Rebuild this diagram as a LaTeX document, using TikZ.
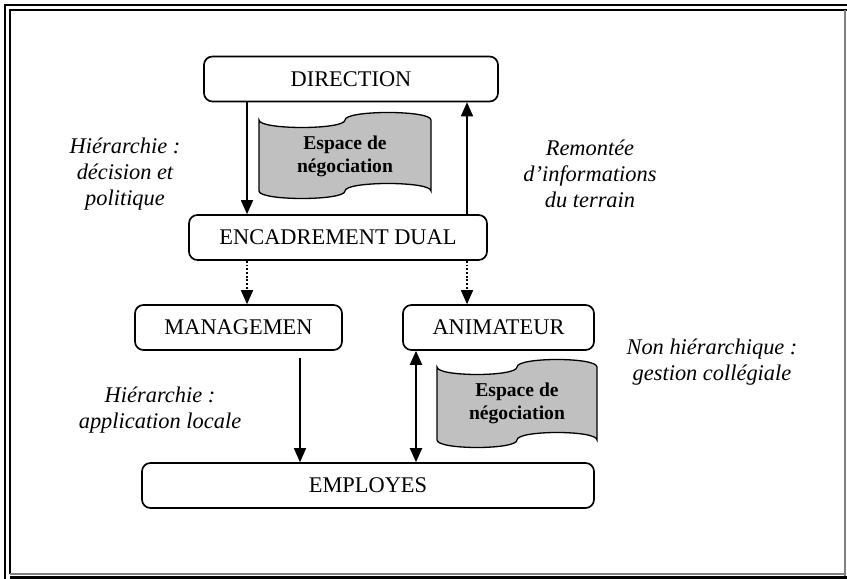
\documentclass[tikz,border=0pt]{standalone}
\usepackage{fontspec}
\setmainfont{Liberation Serif}
\usetikzlibrary{arrows.meta}
\definecolor{tapegray}{RGB}{192,192,192}
\definecolor{framegray}{RGB}{128,128,128}

% punched-tape banner: left x, right x, top y, bottom y, wave amplitude
\newcommand\tapeshape[5]{%
  \pgfmathsetmacro\tm{(#1+#2)/2}%
  \pgfmathsetmacro\ta{4/3*#5}%
  \draw[tape] ({#1},{#3}) .. controls ({#1},{#3+\ta}) and ({\tm},{#3+\ta}) .. ({\tm},{#3})
    .. controls ({\tm},{#3-\ta}) and ({#2},{#3-\ta}) .. ({#2},{#3})
    -- ({#2},{#4}) .. controls ({#2},{#4-\ta}) and ({\tm},{#4-\ta}) .. ({\tm},{#4})
    .. controls ({\tm},{#4+\ta}) and ({#1},{#4+\ta}) .. ({#1},{#4}) -- cycle;}

\begin{document}
\begin{tikzpicture}[x=0.5357pt, y=-0.5357pt,
  box/.style={draw, line width=0.9pt, rounded corners=4.5pt, inner sep=0pt,
    minimum height=45*0.5357pt, font=\fontsize{12}{14}\selectfont},
  arr/.style={line width=0.6pt, -{Triangle[length=7.5pt,width=6.5pt]}},
  dblarr/.style={line width=1pt, {Triangle[length=7.5pt,width=6.5pt]}-{Triangle[length=7.5pt,width=6.5pt]}},
  dotarr/.style={arr, dash pattern=on 1pt off 1pt},
  note/.style={font=\fontsize{12}{13.8}\selectfont\itshape, align=center, inner sep=0pt},
  neg/.style={font=\fontsize{10.5}{12.3}\selectfont\bfseries, align=center, inner sep=0pt},
  tape/.style={draw, line width=0.7pt, fill=tapegray}]

\useasboundingbox (0,0) rectangle (847,579);

% page border
\draw[line width=1.4pt] (5,579) -- (5,5) -- (847,5);
\draw[line width=1.4pt] (10,577.5) -- (847,577.5);
\draw[line width=0.6pt] (10,574) -- (10,10) -- (847,10);
\draw[line width=0.6pt, framegray] (10,574) -- (845,574);
\draw[line width=0.8pt, framegray] (845,10) -- (845,576);

% negotiation banners
\tapeshape{259}{431}{120}{191}{7.5}
\node[neg] (neg1) at (345,156) {Espace de\\négociation};
\tapeshape{437}{597}{367}{440}{7.5}
\node[neg] (neg2) at (517,403) {Espace de\\négociation};

% boxes
\node[box, minimum width=294*0.5357pt] (dir) at (351,79) {DIRECTION};
\node[box, minimum width=298*0.5357pt] (enc) at (338,237.5) {ENCADREMENT DUAL};
\node[box, minimum width=207*0.5357pt] (man) at (238.5,327.5) {MANAGEMEN};
\node[box, minimum width=191*0.5357pt] (ani) at (498.5,327.5) {ANIMATEUR};
\node[box, minimum width=452*0.5357pt] (emp) at (368,485.5) {EMPLOYES};

% connector columns
\coordinate (cA) at (247,0);
\coordinate (cB) at (467,0);
\coordinate (cC) at (300,0);
\coordinate (cD) at (416,0);

\draw[arr] (dir.south -| cA) -- (enc.north -| cA);
\draw[arr] (enc.north -| cB) -- (dir.south -| cB);
\draw[dotarr] (enc.south -| cA) -- (man.north -| cA);
\draw[dotarr] (enc.south -| cB) -- (ani.north -| cB);
\draw[arr] ([yshift=-3.75pt]man.south -| cC) -- (emp.north -| cC);
\draw[dblarr] (ani.south -| cD) -- (emp.north -| cD);

% side labels
\node[note] (n1) at (125,174) {Hiérarchie :\\décision et\\politique};
\node[note] (n2) at (590,174) {Remontée\\d’informations\\du terrain};
\node[note] (n3) at (160,410) {Hiérarchie :\\application locale};
\node[note] (n4) at (712,362) {Non hiérarchique :\\gestion collégiale};
\end{tikzpicture}
\end{document}
